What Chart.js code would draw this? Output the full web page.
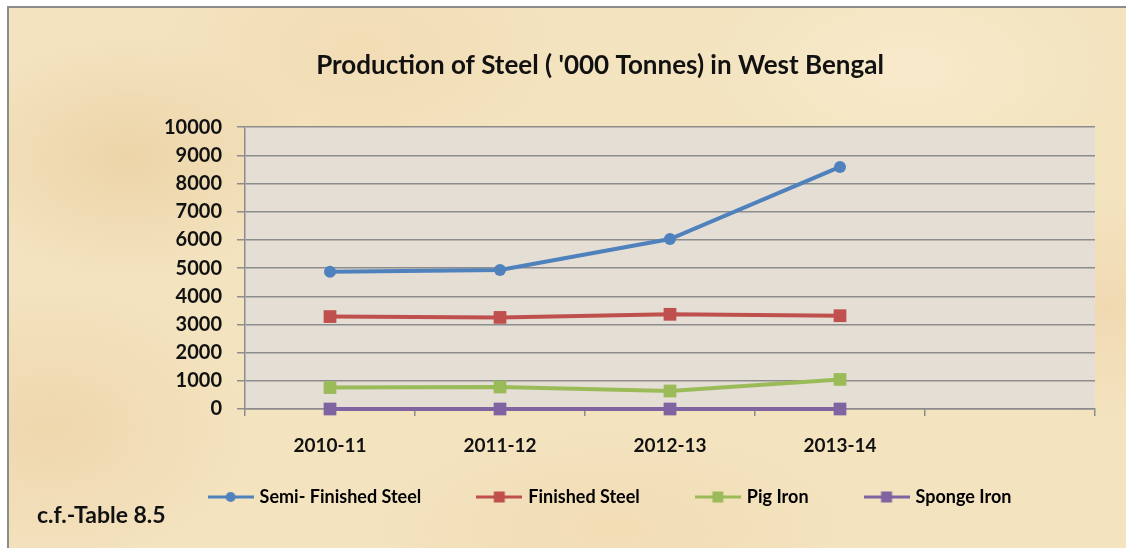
<!DOCTYPE html>
<html>
<head>
<meta charset="utf-8">
<script src="https://cdn.jsdelivr.net/npm/chart.js@4.4.1/dist/chart.umd.min.js"></script>
<style>
  html, body { margin: 0; padding: 0; background: #ffffff; }
  #wrap {
    position: absolute; left: 7px; top: 6px; width: 1130px; height: 550px;
    border-top: 2px solid #8c8c8c; border-left: 2px solid #8c8c8c;
    background-color: #f3e3bf;
    background-image:
      radial-gradient(ellipse 180px 120px at 120px 150px, rgba(232,200,150,0.55), rgba(232,200,150,0) 100%),
      radial-gradient(ellipse 200px 140px at 40px 420px, rgba(236,205,160,0.55), rgba(236,205,160,0) 100%),
      radial-gradient(ellipse 220px 120px at 900px 60px, rgba(250,238,210,0.6), rgba(250,238,210,0) 100%),
      radial-gradient(ellipse 160px 110px at 1100px 300px, rgba(238,208,165,0.5), rgba(238,208,165,0) 100%),
      radial-gradient(ellipse 240px 100px at 600px 520px, rgba(240,214,170,0.5), rgba(240,214,170,0) 100%),
      radial-gradient(ellipse 200px 120px at 350px 40px, rgba(240,212,168,0.45), rgba(240,212,168,0) 100%);
  }
  #c { position: absolute; left: 0; top: 0; }
  #note {
    position: absolute; left: 37px; top: 500px;
    font-family: Lato, sans-serif; font-weight: bold; font-size: 23px; color: #111;
  }
</style>
</head>
<body>
<div id="wrap"></div>
<canvas id="c" width="1126" height="548"></canvas>
<div id="note">c.f.-Table 8.5</div>
<script>
const categories = ['2010-11', '2011-12', '2012-13', '2013-14', ''];
const semiFinishedSteel = [4870, 4930, 6030, 8590, null];
const finishedSteel = [3280, 3250, 3360, 3310, null];
const pigIron = [760, 780, 640, 1050, null];
const spongeIron = [0, 0, 0, 0, null];
const yTicks = [0, 1000, 2000, 3000, 4000, 5000, 6000, 7000, 8000, 9000, 10000];
const seriesNames = ['Semi- Finished Steel', 'Finished Steel', 'Pig Iron', 'Sponge Iron'];

const colors = ['#4f81bd', '#c0504d', '#9bbb59', '#8064a2'];
const markers = ['circle', 'rect', 'rect', 'rect'];

function legendIcon(color, marker) {
  const cv = document.createElement('canvas');
  cv.width = 46; cv.height = 14;
  const g = cv.getContext('2d');
  g.strokeStyle = color; g.lineWidth = 3;
  g.beginPath(); g.moveTo(0, 7); g.lineTo(46, 7); g.stroke();
  g.fillStyle = color;
  if (marker === 'circle') { g.beginPath(); g.arc(23, 7, 5, 0, Math.PI * 2); g.fill(); }
  else { g.fillRect(17.5, 1.5, 11, 11); }
  return cv;
}
const icons = colors.map((c, i) => legendIcon(c, markers[i]));

const seriesData = [semiFinishedSteel, finishedSteel, pigIron, spongeIron];
const datasets = seriesData.map((d, i) => ({
  label: seriesNames[i],
  data: d,
  borderColor: colors[i],
  backgroundColor: colors[i],
  borderWidth: 4,
  pointStyle: markers[i],
  pointRadius: markers[i] === 'circle' ? 6 : 9,
  pointBorderWidth: 0,
  tension: 0,
  clip: false
}));

const plotBg = {
  id: 'plotBg',
  beforeDraw(chart) {
    const a = chart.chartArea, ctx = chart.ctx;
    ctx.save();
    ctx.fillStyle = '#e5ded4';
    ctx.fillRect(a.left, a.top, a.right - a.left, a.bottom - a.top);
    ctx.restore();
  },
  afterLayout(chart) {
    const lg = chart.legend;
    if (lg) { lg.left += 11; lg.right += 11; lg.top -= 29; lg.bottom -= 29; }
  }
};

new Chart(document.getElementById('c'), {
  type: 'line',
  data: { labels: categories, datasets },
  plugins: [plotBg],
  options: {
    responsive: false,
    animation: false,
    layout: { padding: { left: 105, right: 31, top: 40, bottom: 3 } },
    plugins: {
      title: {
        display: true,
        text: "Production of Steel ( '000 Tonnes) in West Bengal",
        color: '#111',
        font: { family: 'Lato', size: 26, weight: 'bold' },
        padding: { top: 10, bottom: 46 }
      },
      legend: {
        position: 'bottom',
        labels: {
          usePointStyle: true,
          pointStyleWidth: 40,
          padding: 58,
          color: '#111',
          font: { family: 'Lato', size: 18, weight: 'bold' },
          generateLabels(chart) {
            return chart.data.datasets.map((ds, i) => ({
              text: ds.label,
              pointStyle: icons[i],
              fillStyle: colors[i],
              strokeStyle: colors[i],
              lineWidth: 0,
              hidden: false,
              datasetIndex: i
            }));
          }
        }
      },
      tooltip: { enabled: false }
    },
    scales: {
      x: {
        offset: true,
        afterFit(s) { s.height = 50; },
        grid: { display: true, offset: true, drawOnChartArea: false, tickLength: 7, color: '#8c8c8c', lineWidth: 1.5 },
        border: { display: true, color: '#8c8c8c', width: 1.5 },
        ticks: { color: '#111', padding: 18, font: { family: 'Lato', size: 19, weight: 'bold' }, maxRotation: 0, autoSkip: false }
      },
      y: {
        min: 0, max: 10000,
        afterFit(s) { s.width = 140; },
        afterBuildTicks(s) { s.ticks = yTicks.map(v => ({ value: v })); },
        grid: { color: '#8c8c8c', lineWidth: 1.5, tickLength: 8 },
        border: { display: true, color: '#8c8c8c', width: 1.5 },
        ticks: { color: '#111', padding: 15, autoSkip: false, font: { family: 'Lato', size: 20, weight: 'bold' }, callback: v => String(v) }
      }
    }
  }
});
</script>
</body>
</html>
